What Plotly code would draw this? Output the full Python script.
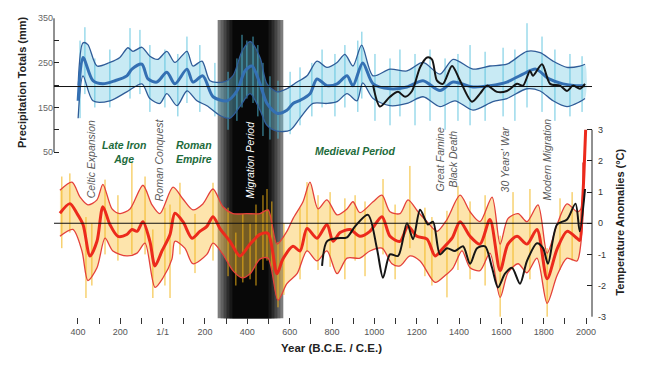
import plotly.graph_objects as go

# ---------------- data ----------------
# Precipitation totals (mm): smoothed mean, upper / lower bounds
precip_mean_years = [-399,-376,-329,-282,-225,-169,-145,-98,-69,-27,20,58,115,143,190,238,304,351,389,422,
                     460,493,540,587,616,649,696,729,776,824,871,899,945,994,1074,1154,1230,1310,1372,1466,
                     1546,1626,1702,1763,1825,1891,1953,1995]
precip_mean = [165,262,210,203,210,221,236,247,214,207,229,203,236,207,221,174,165,187,232,243,
               203,159,137,144,159,166,181,214,199,203,221,199,250,203,192,196,210,188,207,196,
               199,207,225,236,214,203,199,199]

precip_upper_years = [-399,-376,-353,-310,-249,-202,-164,-140,-98,-60,-22,20,58,115,143,186,224,285,332,375,
                      413,460,493,540,587,635,682,729,776,824,861,899,940,994,1074,1154,1230,1310,1372,1466,
                      1546,1626,1721,1783,1844,1910,1971,1995]
precip_upper = [200,295,291,243,251,262,284,276,285,265,258,276,251,276,243,254,210,207,221,276,
                298,262,203,185,192,207,221,254,240,251,269,243,290,221,236,232,251,225,258,236,
                243,247,276,273,254,240,243,247]

precip_lower_years = [-399,-376,-329,-249,-169,-98,-60,-13,20,68,115,162,209,271,318,365,413,460,493,540,
                      602,649,710,776,824,871,918,945,994,1074,1154,1230,1310,1381,1466,1560,1626,1721,1783,1844,
                      1910,1971,1995]
precip_lower = [126,221,165,165,185,203,170,159,181,154,187,165,154,132,126,152,181,144,110,97,
                99,126,159,159,163,181,165,205,170,154,159,174,152,165,144,163,170,192,187,165,
                152,163,170]

# independent precipitation record (black)
precip_black_years = [994,1027,1074,1112,1145,1178,1216,1249,1272,1296,1324,1367,1405,1461,1499,1532,1579,1626,1674,1702,
                      1735,1749,1792,1830,1877,1910,1938,1971,1995]
precip_black = [200,152,174,185,174,187,240,262,258,210,203,243,210,163,181,199,185,187,203,199,
                232,221,247,203,199,187,199,192,203]

# annual precipitation extremes (light spikes)
precip_spike_years = [-390,-367,-320,-249,-154,-107,-60,11,72,115,176,247,309,351,375,398,427,450,474,507,
                      545,602,649,705,753,814,861,922,941,1003,1074,1121,1192,1263,1334,1395,1452,1523,1608,1664,
                      1721,1792,1853,1924,1981]
precip_spike_lo = [126,180,150,150,170,180,140,150,130,160,140,130,100,120,150,170,160,130,86,78,
                   80,90,110,130,150,130,150,140,170,120,110,130,110,120,100,120,110,120,130,120,
                   150,140,120,130,140]
precip_spike_hi = [300,330,260,280,328,324,290,280,270,309,290,250,230,260,313,300,309,290,250,220,
                   210,230,240,250,280,270,290,300,320,270,260,280,270,280,260,270,290,275,284,280,
                   339,309,280,270,265]

# Temperature anomalies (deg C): smoothed mean, upper / lower bounds
temp_mean_years = [-485,-438,-405,-376,-343,-310,-282,-249,-211,-169,-145,-121,-93,-60,-36,-3,35,58,96,139,
                   176,209,238,271,318,365,413,460,498,540,568,616,649,682,729,776,805,838,885,932,
                   979,1036,1074,1121,1159,1201,1249,1287,1324,1367,1405,1452,1499,1546,1594,1631,1674,1721,1768,1816,
                   1863,1910,1957,1970,1982,1990,1998]
temp_mean = [0.32,0.63,0.32,-0.04,-1.05,-0.58,0.53,-0.04,-0.42,-0.36,-0.2,-0.26,0.05,-0.58,-1.37,-0.89,-0.36,0.32,0.05,-0.48,
             -0.26,-0.1,0.21,-0.17,-0.58,-1.05,-0.67,-0.36,-0.33,-1.62,-1.15,-0.74,-0.89,-0.17,-0.48,-0.04,-0.58,-0.3,-0.2,-0.42,
             -0.26,0.21,-0.42,-0.58,-0.1,-0.42,-0.51,-1.05,-0.8,-0.48,0.05,-0.42,-0.67,0.12,-1.52,-0.67,-0.42,-0.67,-0.2,-1.78,
             -0.83,-0.26,-0.48,-0.55,0.5,1.6,3.0]

temp_upper_years = [-485,-428,-390,-353,-310,-282,-239,-202,-154,-93,-50,-13,49,96,143,190,238,285,332,398,
                    460,498,540,587,616,663,696,734,776,824,871,899,932,994,1036,1074,1121,1159,1206,1249,
                    1296,1343,1405,1452,1499,1556,1594,1631,1679,1721,1773,1816,1863,1910,1957,1975,1985]
temp_upper = [1.06,1.32,0.84,0.59,0.75,1.25,0.46,0.31,0.46,1.22,0.59,0.31,1.16,0.78,0.43,0.62,1.1,0.53,0.31,0.31,
              0.31,0.43,-0.67,-0.26,0.15,0.69,1.32,0.46,0.75,0.27,0.46,0.69,0.34,0.69,0.9,0.37,0.31,0.75,0.37,0.05,
              -0.26,0.12,0.9,0.37,0.05,0.84,-0.67,0.15,0.31,0.05,0.59,-0.96,-0.04,0.62,0.37,0.45,1.95]

temp_lower_years = [-485,-424,-381,-353,-310,-272,-235,-169,-121,-83,-36,2,44,58,105,143,209,238,285,332,
                    375,413,460,498,545,587,635,682,729,776,824,871,932,979,1036,1083,1121,1168,1216,1287,
                    1334,1372,1414,1452,1499,1546,1594,1631,1679,1721,1768,1816,1863,1910,1957,1975,1990]
temp_lower = [-0.42,-0.2,-0.89,-1.84,-1.43,-0.48,-0.89,-1.05,-0.96,-0.64,-2.06,-1.75,-1.15,-0.58,-0.8,-1.3,-1.0,-0.64,-1.0,-1.52,
              -1.75,-1.62,-1.15,-1.12,-2.47,-1.94,-1.62,-0.89,-1.21,-0.89,-1.62,-1.12,-1.12,-0.89,-0.8,-1.3,-1.37,-1.05,-1.21,-1.9,
              -1.68,-1.43,-0.89,-1.43,-1.52,-0.96,-2.38,-1.59,-1.3,-1.59,-1.12,-2.57,-1.68,-1.12,-1.21,-0.67,1.1]

# independent temperature record (black)
temp_black_years = [753,776,824,871,909,970,1012,1041,1074,1112,1154,1183,1216,1253,1277,1310,1343,1381,1419,1452,
                    1485,1523,1556,1584,1617,1650,1688,1721,1768,1797,1820,1863,1910,1950,1970,1995]
temp_black = [-1.37,-0.58,-0.48,-0.45,-0.1,0.27,-0.8,-1.75,-1.0,-1.05,0.0,-0.51,0.43,-0.04,0.05,-1.0,-0.8,-0.89,-0.74,-1.3,
              -0.8,-0.74,-1.43,-2.06,-1.62,-1.43,-1.94,-1.21,-0.64,-0.8,-1.3,-0.04,0.12,0.63,-0.26,1.1]

# annual temperature extremes (yellow spikes)
temp_spike_years = [-476,-438,-362,-334,-272,-211,-145,-83,-46,11,35,82,153,238,309,346,379,413,441,474,
                    493,516,545,573,649,682,734,791,861,909,956,1041,1098,1168,1239,1272,1343,1395,1452,1523,
                    1594,1655,1735,1816,1877,1934]
temp_spike_lo = [-0.8,-0.3,-2.4,-2.0,-1.0,-1.2,-1.0,-1.0,-2.4,-2.0,-2.4,-1.0,-1.6,-1.2,-1.7,-2.0,-1.9,-1.8,-2.0,-1.5,
                 -1.2,-1.5,-2.7,-2.3,-1.8,-0.9,-1.5,-1.4,-1.8,-1.2,-1.7,-1.0,-1.8,-0.8,-1.7,-2.0,-2.38,-1.5,-1.8,-2.0,
                 -3.0,-1.5,-1.8,-3.0,-1.5,-1.2]
temp_spike_hi = [1.5,1.6,0.2,0.0,1.4,0.9,1.95,1.5,-0.2,0.5,0.6,1.3,0.3,1.3,0.5,-0.3,0.3,0.0,0.6,0.9,
                 1.1,0.7,-0.6,0.0,0.5,1.32,0.9,1.0,0.8,0.9,0.7,1.42,0.6,1.84,0.5,0.2,0.4,1.2,0.7,0.9,
                 -0.4,1.0,1.1,-0.8,0.8,1.0]

precip_ref_line = 197
temp_ref_line = 0
migration_period = (260, 570)

x_tick_vals = list(range(-400, 2001, 100))
x_tick_text = ['400', '', '200', '', '1/1', '', '200', '', '400', '', '600', '', '800', '', '1000', '',
               '1200', '', '1400', '', '1600', '', '1800', '', '2000']
precip_tick_vals = [50, 100, 150, 200, 250, 300, 350]
precip_tick_text = ['50', '', '150', '', '250', '', '350']
temp_tick_vals = [-3, -2, -1, 0, 1, 2, 3]
temp_tick_text = ['-3', '-2', '-1', '0', '1', '2', '3']

events = [
    ("Celtic Expansion", -334),
    ("Roman Conquest", -13),
    ("Great Famine<br>Black Death", 1343),
    ("30 Years' War", 1617),
    ("Modern Migration", 1816),
]
periods = [
    ("Late Iron<br>Age", -183),
    ("Roman<br>Empire", 148),
]

# ---------------- helpers ----------------
def spikes(years, lo, hi):
    xs, ys = [], []
    for yr, a, b in zip(years, lo, hi):
        xs += [yr, yr, None]
        ys += [a, b, None]
    return xs, ys


def band(up_x, up_y, lo_x, lo_y):
    return up_x + lo_x[::-1], up_y + lo_y[::-1]


fig = go.Figure()

# ---- precipitation panel ----
fx, fy = band(precip_upper_years, precip_upper, precip_lower_years, precip_lower)
fig.add_trace(go.Scatter(x=fx, y=fy, fill='toself', fillcolor='rgba(110,200,225,0.38)',
                         line=dict(width=0, shape='spline', smoothing=0.8), mode='lines', yaxis='y'))
sx, sy = spikes(precip_spike_years, precip_spike_lo, precip_spike_hi)
fig.add_trace(go.Scatter(x=sx, y=sy, mode='lines', line=dict(color='rgba(80,190,220,0.85)', width=1), yaxis='y'))
for xs, ys in [(precip_upper_years, precip_upper), (precip_lower_years, precip_lower)]:
    fig.add_trace(go.Scatter(x=xs, y=ys, mode='lines', yaxis='y',
                             line=dict(color='#2f5c98', width=1.3, shape='spline', smoothing=0.8)))
fig.add_trace(go.Scatter(x=precip_mean_years, y=precip_mean, mode='lines', yaxis='y',
                         line=dict(color='#3470b3', width=3, shape='spline', smoothing=0.8)))
fig.add_trace(go.Scatter(x=precip_black_years, y=precip_black, mode='lines', yaxis='y',
                         line=dict(color='#151515', width=2, shape='spline', smoothing=0.8)))

# ---- temperature panel ----
fx, fy = band(temp_upper_years, temp_upper, temp_lower_years, temp_lower)
fig.add_trace(go.Scatter(x=fx, y=fy, fill='toself', fillcolor='rgba(250,195,70,0.45)',
                         line=dict(width=0, shape='spline', smoothing=0.8), mode='lines', yaxis='y2'))
sx, sy = spikes(temp_spike_years, temp_spike_lo, temp_spike_hi)
fig.add_trace(go.Scatter(x=sx, y=sy, mode='lines', line=dict(color='rgba(242,180,20,0.9)', width=1), yaxis='y2'))
for xs, ys in [(temp_upper_years, temp_upper), (temp_lower_years, temp_lower)]:
    fig.add_trace(go.Scatter(x=xs, y=ys, mode='lines', yaxis='y2',
                             line=dict(color='#e4403a', width=1.3, shape='spline', smoothing=0.8)))
fig.add_trace(go.Scatter(x=temp_mean_years, y=temp_mean, mode='lines', yaxis='y2',
                         line=dict(color='#ec2a1c', width=3, shape='spline', smoothing=0.8)))
fig.add_trace(go.Scatter(x=temp_black_years, y=temp_black, mode='lines', yaxis='y2',
                         line=dict(color='#151515', width=2, shape='spline', smoothing=0.8)))

# ---- shapes ----
shapes = []
b0, b1 = migration_period
span = b1 - b0
grads = ['#7c7c7c', '#606060', '#454545', '#2c2c2c', '#181818', '#080808']
for i, c in enumerate(grads):
    inset = span * 0.045 * i
    shapes.append(dict(type='rect', xref='x', yref='paper', x0=b0 + inset, x1=b1 - inset,
                       y0=-0.004, y1=0.993, fillcolor=c, line=dict(width=0), layer='below'))
shapes.append(dict(type='line', xref='paper', yref='y', x0=0, x1=1, y0=precip_ref_line, y1=precip_ref_line,
                   line=dict(color='#111', width=1), layer='above'))
shapes.append(dict(type='line', xref='paper', yref='y2', x0=0, x1=1, y0=temp_ref_line, y1=temp_ref_line,
                   line=dict(color='#111', width=1), layer='above'))
shapes.append(dict(type='line', xref='paper', yref='y', x0=0, x1=0, y0=50, y1=350,
                   line=dict(color='#222', width=1)))
shapes.append(dict(type='line', xref='paper', yref='y2', x0=1, x1=1, y0=-3, y1=3,
                   line=dict(color='#222', width=1)))

# ---- annotations ----
FONT = 'Liberation Sans, Arial, sans-serif'
C = dict(xanchor='center', yanchor='middle', showarrow=False)
ann = []
ann.append(dict(text='<b>Precipitation Totals (mm)</b>', xref='paper', yref='paper', x=-0.0595, y=0.786,
                textangle=-90, font=dict(size=11, color='#222', family=FONT), **C))
ann.append(dict(text='<b>Temperature Anomalies (°C)</b>', xref='paper', yref='paper', x=1.052, y=0.319,
                textangle=-90, font=dict(size=11, color='#222', family=FONT), **C))
ann.append(dict(text='<b>Year (B.C.E. / C.E.)</b>', xref='paper', yref='paper', x=0.515, y=-0.105,
                font=dict(size=11.5, color='#222', family=FONT), **C))
for txt, yr in events:
    ann.append(dict(text='<i>' + txt + '</i>', xref='x', yref='paper', x=yr, y=0.527, textangle=-90,
                    font=dict(size=10.5, color='#5a5a5a', family=FONT), **C))
for txt, yr in periods:
    ann.append(dict(text='<b><i>' + txt + '</i></b>', xref='x', yref='paper', x=yr, y=0.553,
                    font=dict(size=10.5, color='#1d6b3b', family=FONT), **C))
ann.append(dict(text='<b><i>Medieval Period</i></b>', xref='x', yref='paper', x=909, y=0.556,
                font=dict(size=10.5, color='#1d6b3b', family=FONT), **C))
ann.append(dict(text='<i>Migration Period</i>', xref='x', yref='paper', x=413, y=0.527, textangle=-90,
                font=dict(size=10.5, color='white', family=FONT), **C))

# page body has an 8px default margin, so the figure is 8px smaller and margins shifted
fig.update_layout(
    width=642, height=377,
    margin=dict(l=46, r=58, t=5, b=68),
    plot_bgcolor='white', paper_bgcolor='white',
    showlegend=False,
    font=dict(family=FONT),
    shapes=shapes, annotations=ann,
    xaxis=dict(range=[-513, 2028], tickvals=x_tick_vals, ticktext=x_tick_text, ticks='outside',
               ticklen=6, tickcolor='#333', showline=False, showgrid=False, zeroline=False,
               tickfont=dict(size=9, color='#555')),
    yaxis=dict(range=[-320, 350.7], tickvals=precip_tick_vals, ticktext=precip_tick_text, ticks='inside',
               ticklen=5, tickcolor='#222', showline=False, showgrid=False, zeroline=False,
               tickfont=dict(size=9, color='#666')),
    yaxis2=dict(range=[-3.01, 6.59], overlaying='y', side='right', tickvals=temp_tick_vals,
                ticktext=temp_tick_text, ticks='inside', ticklen=5, tickcolor='#222', showline=False,
                showgrid=False, zeroline=False, tickfont=dict(size=9, color='#333'),
                ticklabelstandoff=5),
)

fig.write_html("out.html")
